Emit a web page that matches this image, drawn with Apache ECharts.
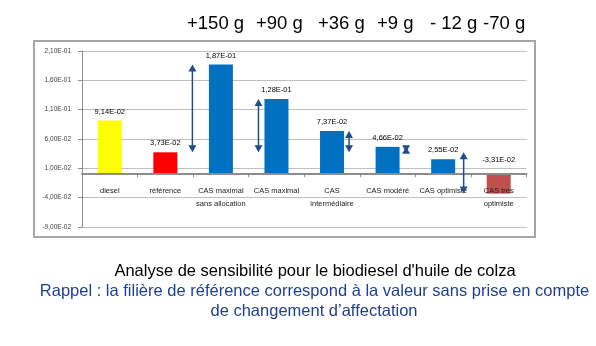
<!DOCTYPE html>
<html>
<head>
<meta charset="utf-8">
<script src="https://cdn.jsdelivr.net/npm/echarts@6/dist/echarts.min.js"></script>
<style>
html,body{margin:0;padding:0;background:#fff;}
#chart{width:596px;height:346px;}
</style>
</head>
<body>
<div id="chart"></div>
<script>
// ---- data ----
const categories = ["diesel", "référence", "CAS maximal\nsans allocation", "CAS maximal", "CAS\nintermédiaire", "CAS modéré", "CAS optimiste", "CAS très\noptimiste"];
const values = [0.0914, 0.0373, 0.187, 0.128, 0.0737, 0.0466, 0.0255, -0.0331];
const referenceValue = 0.0373;
const arrowCategories = [2, 3, 4, 5, 6];
const arrowTargets = [0.187, 0.128, 0.0737, 0.0466, -0.0331];
const deltaLabels = ["+150 g", "+90 g", "+36 g", "+9 g", "- 12 g", "-70 g"];
const yTicks = { min: -0.09, max: 0.21, interval: 0.05 };
const titleLine = "Analyse de sensibilité pour le biodiesel d'huile de colza";
const noteLines = ["Rappel : la filière de référence correspond à la valeur sans prise en compte", "de changement d’affectation"];

// ---- styles ----
const barColors = ["#FFFF00", "#FF0000", "#0070C0", "#0070C0", "#0070C0", "#0070C0", "#0070C0", "#C0504D"];
const arrowOffsets = [-28.5, -18, 17, 18.5, 20.5];
const deltaX = [187, 256, 318, 377, 430, 483];
const arrowColor = "#1F4E8C";
const FONT = "'Liberation Sans', Arial, sans-serif";

function sci(v) {
  let s = Number(v).toExponential(2);
  let [m, e] = s.split("e");
  let n = Math.abs(parseInt(e, 10));
  let es = (n < 10 ? "0" : "") + n;
  return m.replace(".", ",") + "E" + (e[0] === "-" ? "-" : "+") + es;
}

const chart = echarts.init(document.getElementById("chart"), null, { renderer: "canvas" });

const gridTop = 51, gridBottom = 119, plotH = 346 - gridTop - gridBottom;
// pixel distance from the plot bottom to the zero line, derived from the axis range
const zeroOffset = plotH * (0 - yTicks.min) / (yTicks.max - yTicks.min);

const graphics = [
  { type: "rect", shape: { x: 34, y: 41, width: 501, height: 196 }, style: { fill: "none", stroke: "#A6A6A6", lineWidth: 2 }, z: -1 }
];
deltaLabels.forEach((t, i) => {
  graphics.push({ type: "text", left: deltaX[i], top: 14, style: { text: t, font: "18.5px " + FONT, fill: "#000" } });
});
graphics.push({ type: "text", x: 315, y: 271, style: { text: titleLine, font: "16.5px " + FONT, fill: "#000", textAlign: "center", textVerticalAlign: "middle" } });
graphics.push({ type: "text", x: 314.5, y: 291, style: { text: noteLines[0], font: "16.5px " + FONT, fill: "#1F3F8F", textAlign: "center", textVerticalAlign: "middle" } });
graphics.push({ type: "text", x: 314, y: 311, style: { text: noteLines[1], font: "16.5px " + FONT, fill: "#1F3F8F", textAlign: "center", textVerticalAlign: "middle" } });

const option = {
  animation: false,
  backgroundColor: "#fff",
  grid: { left: 82, right: 69.5, top: gridTop, bottom: gridBottom, containLabel: false },
  xAxis: {
    type: "category",
    data: categories,
    offset: -zeroOffset,
    z: 4,
    axisLine: { onZero: false, lineStyle: { color: "#8C8C8C", width: 2 } },
    axisTick: { show: true, length: 3, lineStyle: { color: "#8C8C8C" } },
    axisLabel: { fontSize: 7.5, color: "#222", margin: 10, lineHeight: 13, interval: 0, fontFamily: FONT }
  },
  yAxis: {
    type: "value",
    min: yTicks.min,
    max: yTicks.max,
    interval: yTicks.interval,
    axisLine: { show: true, lineStyle: { color: "#8C8C8C", width: 1 } },
    axisTick: { show: true, length: 4, lineStyle: { color: "#8C8C8C" } },
    splitLine: { lineStyle: { color: "#BFBFBF", width: 1 } },
    axisLabel: { fontSize: 6.5, color: "#404040", margin: 11, formatter: v => sci(v), fontFamily: FONT }
  },
  series: [
    {
      type: "bar",
      barWidth: 24,
      data: values.map((v, i) => ({
        value: v,
        itemStyle: { color: barColors[i] },
        label: { distance: v < 0 ? 10 : 5 }
      })),
      label: {
        show: true,
        position: "top",
        formatter: p => sci(p.value),
        fontSize: 7.5,
        color: "#000",
        fontFamily: FONT
      }
    },
    {
      type: "custom",
      silent: true,
      z: 5,
      data: arrowCategories.map((c, i) => [c, referenceValue, arrowTargets[i]]),
      renderItem: function (params, api) {
        const c = api.value(0);
        const pa = api.coord([c, api.value(1)]);
        const pb = api.coord([c, api.value(2)]);
        const x = pa[0] + arrowOffsets[params.dataIndex];
        const yTop = Math.min(pa[1], pb[1]);
        const yBot = Math.max(pa[1], pb[1]);
        const hw = 4, hh = 7;
        return {
          type: "group",
          children: [
            { type: "line", shape: { x1: x, y1: yTop + 3, x2: x, y2: yBot - 3 }, style: { stroke: arrowColor, lineWidth: 1.5 } },
            { type: "polygon", shape: { points: [[x, yTop], [x - hw, yTop + hh], [x + hw, yTop + hh]] }, style: { fill: arrowColor } },
            { type: "polygon", shape: { points: [[x, yBot], [x - hw, yBot - hh], [x + hw, yBot - hh]] }, style: { fill: arrowColor } }
          ]
        };
      }
    }
  ],
  graphic: graphics
};
chart.setOption(option);
</script>
</body>
</html>
